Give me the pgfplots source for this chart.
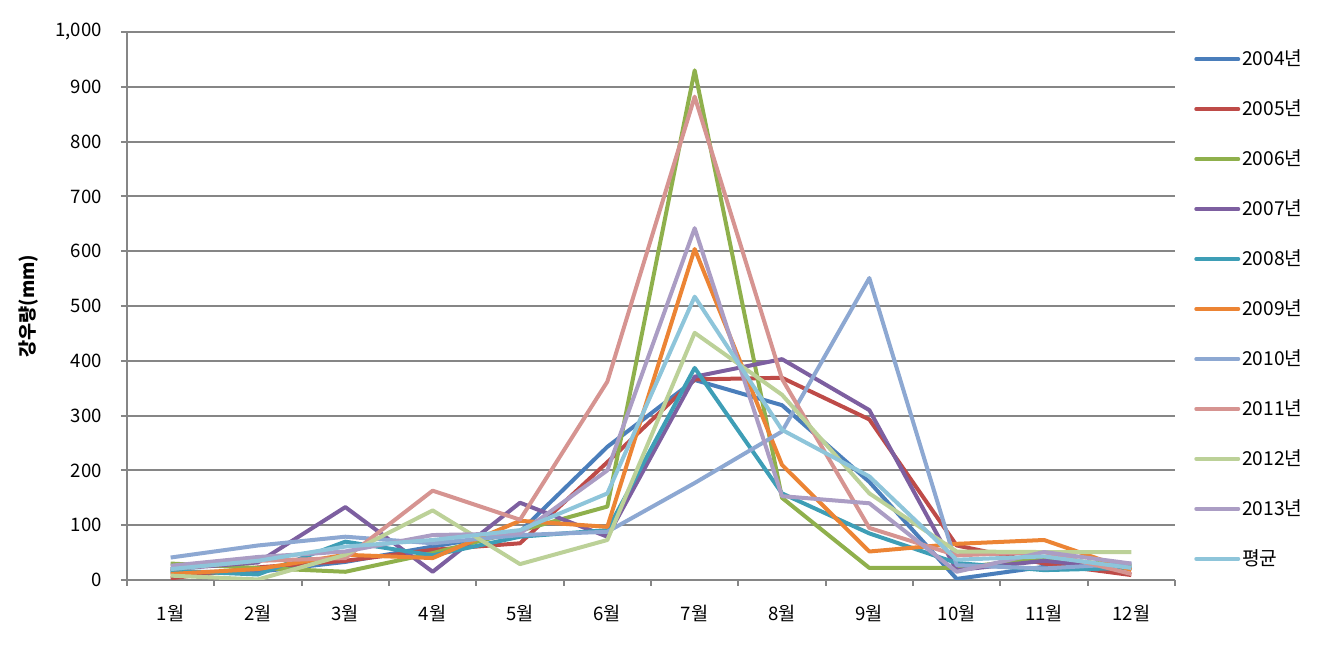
\documentclass[border=0pt]{standalone}
\usepackage{fontspec}
\setmainfont{Noto Sans CJK KR}
\usepackage{pgfplots}
\pgfplotsset{compat=1.18}
\definecolor{gridgray}{HTML}{868686}
\definecolor{c2004}{HTML}{4A7EBB}
\definecolor{c2005}{HTML}{BE4B48}
\definecolor{c2006}{HTML}{8FB04C}
\definecolor{c2007}{HTML}{7D5FA0}
\definecolor{c2008}{HTML}{3E9EB6}
\definecolor{c2009}{HTML}{EC8434}
\definecolor{c2010}{HTML}{8DA8D2}
\definecolor{c2011}{HTML}{D69491}
\definecolor{c2012}{HTML}{BCD198}
\definecolor{c2013}{HTML}{AB9DC4}
\definecolor{cavg}{HTML}{8EC5DA}
\begin{document}
\begin{tikzpicture}
\begin{axis}[
  scale only axis, width=524pt, height=274pt,
  xmin=0.5, xmax=12.5, ymin=0, ymax=1000,
  axis lines*=left,
  axis line style={gridgray, line width=1pt},
  xtick={1,...,12},
  xticklabels={1월,2월,3월,4월,5월,6월,7월,8월,9월,10월,11월,12월},
  minor xtick={0.5,1.5,...,12.5},
  major x tick style={draw=none},
  minor x tick style={gridgray, line width=1pt},
  ytick={0,100,...,1000},
  y tick style={gridgray, line width=1pt},
  tick align=outside,
  major tick length=3pt, minor tick length=3pt,
  ymajorgrids, major grid style={gridgray, line width=1pt},
  /pgf/number format/.cd, 1000 sep={,}, assume math mode=true, /pgfplots/.cd,
  tick label style={font=\fontsize{9.3}{11}\selectfont},
  yticklabel style={xshift=-6pt},
  xticklabel style={yshift=-6pt},
  ylabel={\textbf{강우량(mm)}},
  ylabel style={font=\fontsize{9.3}{11}\selectfont, yshift=1.5pt},
  legend style={at={(rel axis cs:1.018,0.972)}, anchor=north west, draw=none,
    font=\fontsize{9.6}{11}\selectfont, row sep=13.55pt, inner sep=0pt,
    nodes={inner sep=1pt}},
  legend cell align=left,
  legend image code/.code={\draw[#1, line width=2pt, line cap=round] (0pt,0pt) -- (21pt,0pt);},
  every axis plot/.append style={line width=2pt, mark=none, line join=round},
]
\addplot[c2004] coordinates {(1,15)(2,15)(3,33)(4,61)(5,88)(6,243)(7,365)(8,319)(9,179)(10,2)(11,24)(12,27)};
\addplot[c2005] coordinates {(1,3)(2,23)(3,35)(4,55)(5,67)(6,215)(7,366)(8,369)(9,293)(10,63)(11,30)(12,9)};
\addplot[c2006] coordinates {(1,30)(2,22)(3,15)(4,49)(5,90)(6,134)(7,930)(8,150)(9,22)(10,22)(11,40)(12,25)};
\addplot[c2007] coordinates {(1,20)(2,32)(3,133)(4,15)(5,141)(6,79)(7,371)(8,403)(9,310)(10,18)(11,35)(12,20)};
\addplot[c2008] coordinates {(1,17)(2,10)(3,70)(4,45)(5,79)(6,91)(7,387)(8,158)(9,85)(10,31)(11,18)(12,22)};
\addplot[c2009] coordinates {(1,11)(2,20)(3,46)(4,40)(5,108)(6,97)(7,604)(8,210)(9,52)(10,66)(11,73)(12,18)};
\addplot[c2010] coordinates {(1,41)(2,63)(3,79)(4,67)(5,82)(6,88)(7,177)(8,271)(9,551)(10,27)(11,21)(12,30)};
\addplot[c2011] coordinates {(1,20)(2,35)(3,40)(4,163)(5,110)(6,362)(7,882)(8,367)(9,95)(10,45)(11,51)(12,11)};
\addplot[c2012] coordinates {(1,8)(2,1)(3,46)(4,127)(5,29)(6,73)(7,451)(8,338)(9,158)(10,52)(11,51)(12,51)};
\addplot[c2013] coordinates {(1,26)(2,42)(3,52)(4,82)(5,85)(6,200)(7,642)(8,153)(9,140)(10,15)(11,51)(12,30)};
\addplot[cavg] coordinates {(1,20)(2,35)(3,61)(4,73)(5,91)(6,158)(7,517)(8,274)(9,189)(10,37)(11,43)(12,22)};
\legend{2004년,2005년,2006년,2007년,2008년,2009년,2010년,2011년,2012년,2013년,평균}
\end{axis}
\path ([shift={(-63.5pt,-33pt)}]current axis.south west) rectangle ([shift={(72.5pt,16pt)}]current axis.north east);
\end{tikzpicture}
\end{document}
